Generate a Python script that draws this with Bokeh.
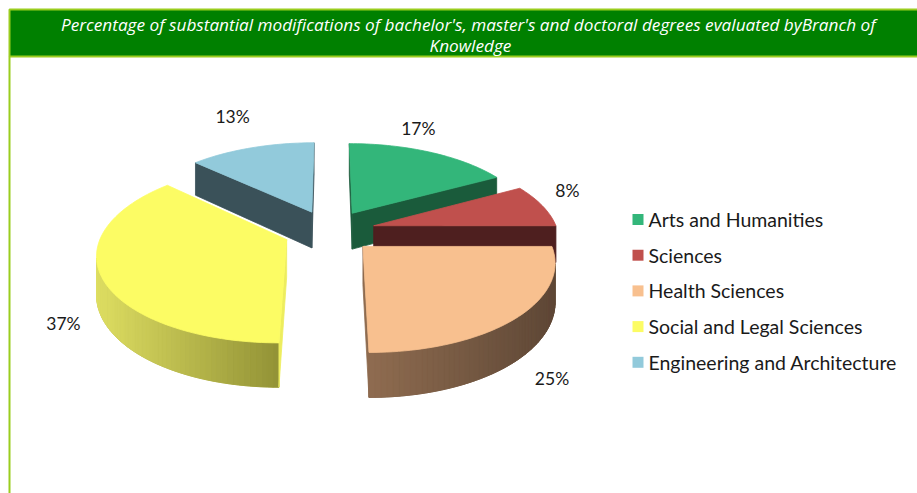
import numpy as np
from bokeh.plotting import figure
from bokeh.models import Range1d, ColumnDataSource
from bokeh.core.properties import value
from bokeh.embed import file_html
from bokeh.resources import INLINE

# ---------------- data ----------------
categories = ["Arts and Humanities", "Sciences", "Health Sciences",
              "Social and Legal Sciences", "Engineering and Architecture"]
percentages = [17, 8, 25, 37, 13]
title_lines = ["Percentage of  substantial modifications of bachelor's, master's and doctoral degrees evaluated byBranch of",
               "Knowledge"]

# ---------------- styles ----------------
top_colors = ["#33B67A", "#C0504D", "#F8C08F", "#FCFC64", "#92CADB"]
radial_colors = ["#1A5B3B", "#4E1F1F", "#8E6B4F", "#EDED5E", "#3A5159"]
wall_light = ["#2A8F5F", "#7A3230", "#8F6C50", "#DEDE62", "#4E6C76"]
wall_dark = ["#1A5B3B", "#4E1F1F", "#5E4736", "#929236", "#3A5159"]
label_nudge = [(-12, -24), (25, -15), (35, 18), (-38, 7), (-19, -31)]

W, H = 917, 493
CX, CY = 329.0, 230.5      # pie centre (px)
SX, SY = 184.0, 85.0       # radii scale (px)
PERS = 0.15                # perspective strength
EXPLODE = 0.25             # explode (radius units)
DEPTH = 37.0               # thickness (px)
EYE_Z = -1.0 / PERS


def proj(X, Z, down=0.0):
    f = 1.0 / (1.0 + PERS * np.asarray(Z))
    return CX + SX * np.asarray(X) * f, CY - SY * np.asarray(Z) * f + down * DEPTH * f


def hex2rgb(h):
    return np.array([int(h[i:i + 2], 16) for i in (1, 3, 5)], dtype=float)


def rgb2hex(c):
    return "#%02x%02x%02x" % tuple(int(round(v)) for v in c)


def visible(nx, nz, px, pz):
    return nx * (0.0 - px) + nz * (EYE_Z - pz) > 0


total = float(sum(percentages))
fr = np.cumsum([0] + percentages) / total * 2 * np.pi
slices = []
for i in range(len(percentages)):
    a0, a1 = fr[i], fr[i + 1]
    mid = 0.5 * (a0 + a1)
    ox, oz = EXPLODE * np.sin(mid), EXPLODE * np.cos(mid)
    depth = oz + 0.5 * np.cos(mid)
    slices.append((depth, i, a0, a1, mid, ox, oz))
slices.sort(key=lambda s: -s[0])

xs, ys, cs = [], [], []
label_x, label_y = [None] * 5, [None] * 5
for depth, i, a0, a1, mid, ox, oz in slices:
    ang = np.linspace(a0, a1, max(8, int((a1 - a0) / (2 * np.pi) * 240)))
    PX, PZ = ox + np.sin(ang), oz + np.cos(ang)
    vis = visible(np.sin(ang), np.cos(ang), PX, PZ)
    tx, ty = proj(PX, PZ, 0)
    bx, by = proj(PX, PZ, 1)
    idx = [k for k in range(len(ang) - 1) if vis[k] and vis[k + 1]]
    if idx:
        k0, k1 = idx[0], idx[-1] + 1
        xmin, xmax = min(tx[k0], tx[k1]), max(tx[k0], tx[k1])
        l, d = hex2rgb(wall_light[i]), hex2rgb(wall_dark[i])
        # base wall polygon (hides seams between gradient strips)
        xs.append(list(tx[k0:k1 + 1]) + list(bx[k0:k1 + 1][::-1]))
        ys.append(list(ty[k0:k1 + 1]) + list(by[k0:k1 + 1][::-1]))
        cs.append(rgb2hex((l + d) / 2))
        for k in idx:
            t = ((tx[k] + tx[k + 1]) / 2 - xmin) / max(xmax - xmin, 1)
            t = min(max(t, 0), 1)
            xs.append([tx[k], tx[k + 1], bx[k + 1], bx[k]])
            ys.append([ty[k], ty[k + 1], by[k + 1], by[k]])
            cs.append(rgb2hex(l * (1 - t) + d * t))
    for a, (nx, nz) in ((a0, (-np.cos(a0), np.sin(a0))), (a1, (np.cos(a1), -np.sin(a1)))):
        ex, ez = ox + np.sin(a), oz + np.cos(a)
        mx, mz = ox + 0.5 * np.sin(a), oz + 0.5 * np.cos(a)
        if visible(nx, nz, mx, mz):
            c_t = proj(ox, oz, 0); e_t = proj(ex, ez, 0)
            c_b = proj(ox, oz, 1); e_b = proj(ex, ez, 1)
            xs.append([float(c_t[0]), float(e_t[0]), float(e_b[0]), float(c_b[0])])
            ys.append([float(c_t[1]), float(e_t[1]), float(e_b[1]), float(c_b[1])])
            cs.append(radial_colors[i])
    cx0, cy0 = proj(ox, oz, 0)
    xs.append([float(cx0)] + list(tx))
    ys.append([float(cy0)] + list(ty))
    cs.append(top_colors[i])
    lx, lz = ox + np.sin(mid), oz + np.cos(mid)
    front = 1.0 if np.cos(mid) < 0 else 0.0
    ax_, ay_ = proj(lx, lz, front)
    label_x[i] = float(ax_) + label_nudge[i][0]
    label_y[i] = float(ay_) + label_nudge[i][1]

p = figure(width=W, height=H, x_range=Range1d(0, W), y_range=Range1d(H, 0),
           output_backend="svg", toolbar_location=None, min_border=0,
           x_axis_type=None, y_axis_type=None)
p.grid.visible = False
p.outline_line_color = None
p.background_fill_color = "white"
p.border_fill_color = "white"

# header bar
p.quad(left=[9], right=[W + 4], top=[9], bottom=[56], fill_color="#008000",
       line_color="#9ACD1E", line_width=2)
p.segment(x0=[9], y0=[56], x1=[9], y1=[H], line_color="#9ACD1E", line_width=2)
p.text(x=[470, 470], y=[24, 45], text=title_lines, text_font=value("Open Sans"),
       text_font_style="italic", text_font_size="17.2px", text_color="white",
       text_align="center", text_baseline="middle")

src = ColumnDataSource(dict(xs=xs, ys=ys, c=cs))
p.patches(xs="xs", ys="ys", fill_color="c", line_color="c", line_width=0.8, source=src)

pct_labels = ["%d%%" % v for v in percentages]
p.text(x=label_x, y=label_y, text=pct_labels, text_font=value("Lato"),
       text_font_size="17.5px", text_color="#1a1a1a", text_align="center",
       text_baseline="middle")

# legend
LEG_X, LEG_Y0, LEG_DY, SQ = 632, 219, 35.7, 11
ly = [LEG_Y0 + k * LEG_DY for k in range(len(categories))]
p.quad(left=[LEG_X] * 5, right=[LEG_X + SQ] * 5, top=[y - SQ / 2 for y in ly],
       bottom=[y + SQ / 2 for y in ly], fill_color=top_colors, line_color=None)
p.text(x=[LEG_X + SQ + 5] * 5, y=ly, text=categories, text_font=value("Lato"),
       text_font_size="19.5px", text_color="#1a1a1a", text_align="left",
       text_baseline="middle")

open("out.html", "w").write(file_html(p, INLINE))
